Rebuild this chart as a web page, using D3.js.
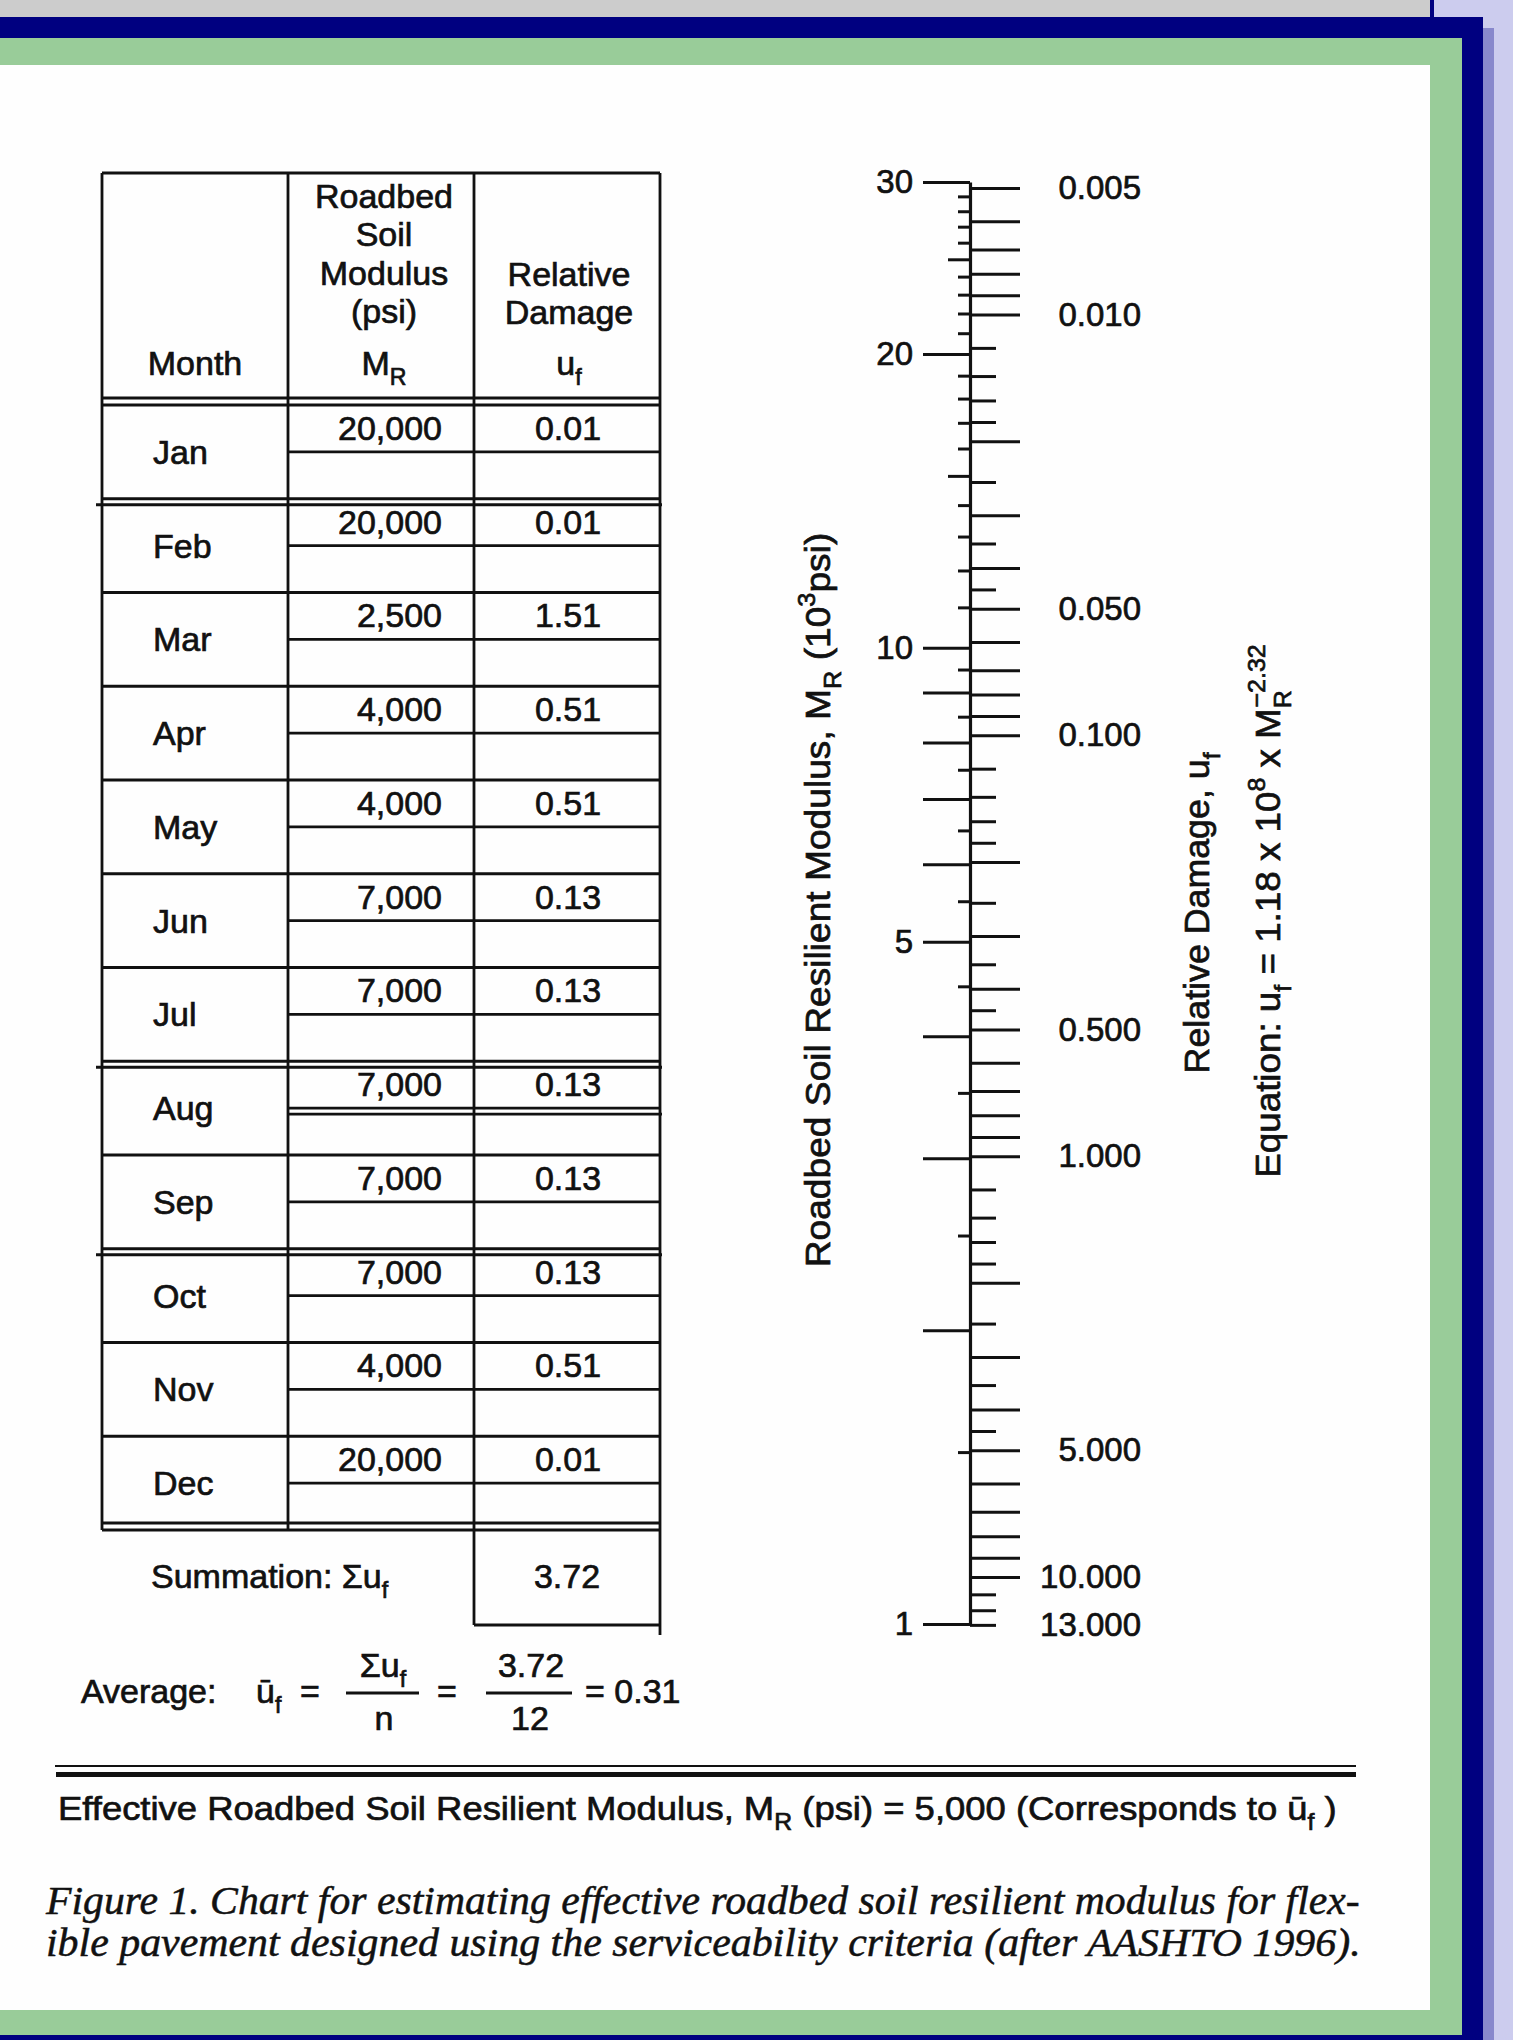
<!DOCTYPE html>
<html>
<head>
<meta charset="utf-8">
<script src="https://cdn.jsdelivr.net/npm/d3@7"></script>
<style>
  body { margin: 0; background: #fff; }
  svg text { font-family: "Liberation Sans", Arial, sans-serif; fill: #111; stroke: #111; stroke-width: 0.7px; }
</style>
</head>
<body>
<div id="chart"></div>
<script>
// monthly table
const months = ["Jan", "Feb", "Mar", "Apr", "May", "Jun", "Jul", "Aug", "Sep", "Oct", "Nov", "Dec"];
const modulus = [20000, 20000, 2500, 4000, 4000, 7000, 7000, 7000, 7000, 7000, 4000, 20000];
const damage = [0.01, 0.01, 1.51, 0.51, 0.51, 0.13, 0.13, 0.13, 0.13, 0.13, 0.51, 0.01];
const effectiveModulus = "5,000";

// equation u_f = 1.18 x 10^8 x M_R^-2.32 (M_R in psi)
const ufCoef = 1.18e8;
const ufExp = -2.32;

// nomograph ticks, M_R in 10^3 psi
const mrLong = [30, 20, 10, 9, 8, 7, 6, 5, 4, 3, 2, 1];
const mrMid = [25, 15];
const mrShort = [29, 28, 27, 26, 24, 23, 22, 21, 19, 18, 17, 16, 14, 13, 12, 11,
                 9.5, 8.5, 7.5, 6.5, 5.5, 4.5, 3.5, 2.5, 1.5];
const mrLabels = [30, 20, 10, 5, 1];

// relative damage ticks
const ufLong = [0.005, 0.006, 0.007, 0.008, 0.009, 0.01, 0.02, 0.03, 0.04, 0.05,
                0.06, 0.07, 0.08, 0.09, 0.1, 0.2, 0.3, 0.4, 0.5, 0.6, 0.7, 0.8, 0.9, 1,
                2, 3, 4, 5, 6, 7, 8, 9, 10];
const ufShort = [0.012, 0.014, 0.016, 0.018, 0.025, 0.035, 0.045, 0.12, 0.14, 0.16, 0.18,
                 0.25, 0.35, 0.45, 1.2, 1.4, 1.6, 1.8, 2.5, 3.5, 4.5, 11, 12, 13];
const ufLabels = [0.005, 0.01, 0.05, 0.1, 0.5, 1, 5, 10, 13];

const captionLines = [
  "Figure 1. Chart for estimating effective roadbed soil resilient modulus for flex-",
  "ible pavement designed using the serviceability criteria (after AASHTO 1996)."
];

const W = 1513, H = 2040;
const ink = "#111";

const svg = d3.select("#chart").append("svg")
  .attr("width", W)
  .attr("height", H);

// page frame
const frame = [
  {x: 0, y: 0, w: W, h: H, c: "#fefefe"},
  {x: 0, y: 0, w: 1430, h: 17, c: "#cccccc"},
  {x: 1434, y: 0, w: 79, h: H, c: "#ccccee"},
  {x: 1430, y: 0, w: 4, h: 17, c: "#000080"},
  {x: 1483, y: 28, w: 11, h: H - 28, c: "#8888cc"},
  {x: 0, y: 17, w: 1483, h: 21, c: "#000080"},
  {x: 1462, y: 17, w: 21, h: H - 17, c: "#000080"},
  {x: 0, y: 38, w: 1462, h: 27, c: "#99cc99"},
  {x: 1430, y: 38, w: 32, h: 1997, c: "#99cc99"},
  {x: 0, y: 2010, w: 1462, h: 25, c: "#99cc99"},
  {x: 0, y: 2035, w: 1483, h: 5, c: "#000080"}
];
svg.append("g").selectAll("rect")
  .data(frame)
  .enter()
  .append("rect")
  .attr("x", d => d.x).attr("y", d => d.y)
  .attr("width", d => d.w).attr("height", d => d.h)
  .attr("fill", d => d.c);

// text with sub / superscripts: parts = [[text, kind, dx], ...]
function rich(sel, parts, fs) {
  let shift = 0;
  parts.forEach(([t, kind, dx]) => {
    let target = kind === "sub" ? fs * 0.3 : kind === "sup" ? -fs * 0.42 : 0;
    let ts = sel.append("tspan")
      .attr("dy", target - shift)
      .attr("font-size", kind === "n" ? fs : fs * 0.68)
      .text(t);
    if (dx) ts.attr("dx", dx);
    shift = target;
  });
  return sel;
}

// ---------------- table ----------------
const fs = 34;
const colX = [102, 288, 474, 660];
const tableTop = 173;
const y = d3.scaleBand().domain(months).range([405, 1530]);
const bw = y.bandwidth();

const table = svg.append("g")
  .attr("stroke", ink)
  .attr("stroke-width", 2.8);

colX.forEach(x => {
  table.append("line").attr("x1", x).attr("x2", x).attr("y1", tableTop).attr("y2", 1530);
});
table.append("line").attr("x1", colX[0]).attr("x2", colX[3]).attr("y1", tableTop).attr("y2", tableTop);
table.append("line").attr("x1", colX[0]).attr("x2", colX[3]).attr("y1", 398).attr("y2", 398);
table.append("line").attr("x1", colX[0]).attr("x2", colX[3]).attr("y1", 405).attr("y2", 405);

const doubled = ["Jan", "Jul", "Sep"];
months.forEach((m, i) => {
  let b = y(m) + bw;
  table.append("line").attr("x1", colX[0]).attr("x2", colX[3]).attr("y1", b).attr("y2", b);
  if (doubled.includes(m)) {
    table.append("line").attr("x1", colX[0] - 6).attr("x2", colX[3] + 2).attr("y1", b + 6).attr("y2", b + 6);
  }
  if (i === months.length - 1) {
    table.append("line").attr("x1", colX[0]).attr("x2", colX[3]).attr("y1", b - 7).attr("y2", b - 7);
  }
  let mid = y(m) + bw / 2;
  table.append("line").attr("x1", colX[1]).attr("x2", colX[3]).attr("y1", mid).attr("y2", mid);
  if (m === "Aug") {
    table.append("line").attr("x1", colX[1]).attr("x2", colX[3] + 2).attr("y1", mid + 6).attr("y2", mid + 6);
  }
});

// summation box
table.append("line").attr("x1", colX[2]).attr("x2", colX[2]).attr("y1", 1530).attr("y2", 1625);
table.append("line").attr("x1", colX[3]).attr("x2", colX[3]).attr("y1", 1530).attr("y2", 1635);
table.append("line").attr("x1", colX[2]).attr("x2", colX[3]).attr("y1", 1625).attr("y2", 1625);

// header
const head = svg.append("g").attr("font-size", fs);
["Roadbed", "Soil", "Modulus", "(psi)"].forEach((t, i) => {
  head.append("text").attr("x", 384).attr("y", 208 + i * 38.3).attr("text-anchor", "middle").text(t);
});
["Relative", "Damage"].forEach((t, i) => {
  head.append("text").attr("x", 569).attr("y", 286 + i * 38.3).attr("text-anchor", "middle").text(t);
});
head.append("text").attr("x", 195).attr("y", 375).attr("text-anchor", "middle").text("Month");
rich(head.append("text").attr("x", 384).attr("y", 375).attr("text-anchor", "middle"),
  [["M", "n"], ["R", "sub"], ["", "n"]], fs);
rich(head.append("text").attr("x", 569).attr("y", 375).attr("text-anchor", "middle"),
  [["u", "n"], ["f", "sub"], ["", "n"]], fs);

// rows
const rows = svg.append("g").attr("font-size", fs);
const fmtMod = d3.format(",");
const fmtDam = d3.format(".2f");
rows.selectAll(".month")
  .data(months)
  .enter()
  .append("text")
  .attr("x", 153)
  .attr("y", d => y(d) + bw / 2 + 12)
  .text(d => d);
rows.selectAll(".mod")
  .data(modulus)
  .enter()
  .append("text")
  .attr("x", 442)
  .attr("y", (d, i) => y(months[i]) + bw / 2 - 12)
  .attr("text-anchor", "end")
  .text(d => fmtMod(d));
rows.selectAll(".dam")
  .data(damage)
  .enter()
  .append("text")
  .attr("x", 568)
  .attr("y", (d, i) => y(months[i]) + bw / 2 - 12)
  .attr("text-anchor", "middle")
  .text(d => fmtDam(d));

// summation & average
const total = d3.sum(damage);
const avg = total / months.length;
rich(rows.append("text").attr("x", 151).attr("y", 1588),
  [["Summation: \u03a3u", "n"], ["f", "sub"]], fs);
rows.append("text").attr("x", 567).attr("y", 1588).attr("text-anchor", "middle").text(total.toFixed(2));

rows.append("text").attr("x", 81).attr("y", 1703).text("Average:");
rich(rows.append("text").attr("x", 256).attr("y", 1703), [["\u016b", "n"], ["f", "sub"]], fs);
rows.append("text").attr("x", 310).attr("y", 1703).attr("text-anchor", "middle").text("=");
rich(rows.append("text").attr("x", 383).attr("y", 1677).attr("text-anchor", "middle"),
  [["\u03a3u", "n"], ["f", "sub"]], fs);
rows.append("text").attr("x", 384).attr("y", 1730).attr("text-anchor", "middle").text("n");
rows.append("text").attr("x", 447).attr("y", 1703).attr("text-anchor", "middle").text("=");
rows.append("text").attr("x", 531).attr("y", 1677).attr("text-anchor", "middle").text(total.toFixed(2));
rows.append("text").attr("x", 530).attr("y", 1730).attr("text-anchor", "middle").text(months.length);
rows.append("text").attr("x", 585).attr("y", 1703).text("= " + avg.toFixed(2));
[[346, 419], [486, 572]].forEach(([a, b]) => {
  rows.append("line").attr("x1", a).attr("x2", b).attr("y1", 1693).attr("y2", 1693)
    .attr("stroke", ink).attr("stroke-width", 2.8);
});

// ---------------- nomograph ----------------
const axisX = 970;
const ufAt = m => ufCoef * Math.pow(m * 1000, ufExp);
const mr = d3.scaleLog().domain([1, 30]).range([1624, 182]);
const uf = d3.scaleLog().domain([ufAt(1), ufAt(30)]).range([1624, 182]);

const nomo = svg.append("g").attr("transform", "translate(" + axisX + ",0)");
const fmtUf = d3.format(".3f");

function styleAxis(g, keepDomain) {
  g.attr("font-family", null).attr("font-size", 33);
  g.selectAll("line").attr("stroke", ink).attr("stroke-width", 3);
  g.selectAll("text").attr("fill", ink);
  if (keepDomain) g.select(".domain").attr("stroke", ink).attr("stroke-width", 3.2);
  else g.select(".domain").remove();
}

nomo.append("g")
  .call(d3.axisLeft(mr).tickValues(mrShort).tickSize(12).tickSizeOuter(0).tickFormat(""))
  .call(g => styleAxis(g, false));
nomo.append("g")
  .call(d3.axisLeft(mr).tickValues(mrMid).tickSize(22).tickSizeOuter(0).tickFormat(""))
  .call(g => styleAxis(g, false));
nomo.append("g")
  .call(d3.axisLeft(mr).tickValues(mrLong).tickSize(47).tickSizeOuter(0).tickPadding(10)
    .tickFormat(d => mrLabels.includes(d) ? d : ""))
  .call(g => styleAxis(g, true));
nomo.append("g")
  .call(d3.axisRight(uf).tickValues(ufShort).tickSize(26).tickSizeOuter(0)
    .tickFormat(d => ufLabels.includes(d) ? fmtUf(d) : ""))
  .call(g => styleAxis(g, false));
nomo.append("g")
  .call(d3.axisRight(uf).tickValues(ufLong).tickSize(50).tickSizeOuter(0)
    .tickFormat(d => ufLabels.includes(d) ? fmtUf(d) : ""))
  .call(g => styleAxis(g, false));
// right labels are right-aligned
nomo.selectAll(".tick text")
  .filter(function () { return d3.select(this).attr("x") > 0; })
  .attr("text-anchor", "end")
  .attr("x", 171);

// axis titles, stretched along their reading direction to the reference length
function vtitle(cx, cy, len, parts) {
  let t = rich(svg.append("text").attr("text-anchor", "middle"), parts, 36);
  let k = len / t.node().getComputedTextLength();
  t.attr("transform", "translate(" + cx + "," + cy + ") rotate(-90) scale(" + k + ",1)");
}
vtitle(830, 900, 735,
  [["Roadbed Soil Resilient Modulus, M", "n"], ["R", "sub"], [" (10", "n"], ["3", "sup"], ["psi)", "n"]]);
vtitle(1209, 913, 321, [["Relative Damage, u", "n"], ["f", "sub"]]);
vtitle(1280, 911, 551,
  [["Equation: u", "n"], ["f", "sub"], [" = 1.18 x 10", "n"], ["8", "sup"], [" x M", "n"],
   ["R", "sub"], ["\u22122.32", "sup", -17]]);

// ---------------- bottom ----------------
svg.append("line").attr("x1", 55).attr("x2", 1356).attr("y1", 1766).attr("y2", 1766)
  .attr("stroke", ink).attr("stroke-width", 2);
svg.append("line").attr("x1", 56).attr("x2", 1356).attr("y1", 1774.5).attr("y2", 1774.5)
  .attr("stroke", ink).attr("stroke-width", 5);

function fitWidth(textSel, x0, width) {
  let w = textSel.node().getBBox().width;
  textSel.attr("transform", "translate(" + x0 + ",0) scale(" + (width / w) + ",1) translate(" + (-x0) + ",0)");
}

const eff = rich(svg.append("text").attr("x", 58).attr("y", 1820),
  [["Effective Roadbed Soil Resilient Modulus, M", "n"], ["R", "sub"],
   [" (psi) = " + effectiveModulus + " (Corresponds to \u016b", "n"], ["f", "sub"], [" )", "n"]], 34);
fitWidth(eff, 58, 1279);

captionLines.forEach((t, i) => {
  let c = svg.append("text")
    .attr("x", 46)
    .attr("y", 1914 + i * 42)
    .attr("font-size", 40)
    .attr("font-style", "italic")
    .style("font-family", "'Liberation Serif', 'Times New Roman', serif")
    .style("stroke-width", "0.5px")
    .text(t);
  fitWidth(c, 46, 1315);
});
</script>
</body>
</html>
